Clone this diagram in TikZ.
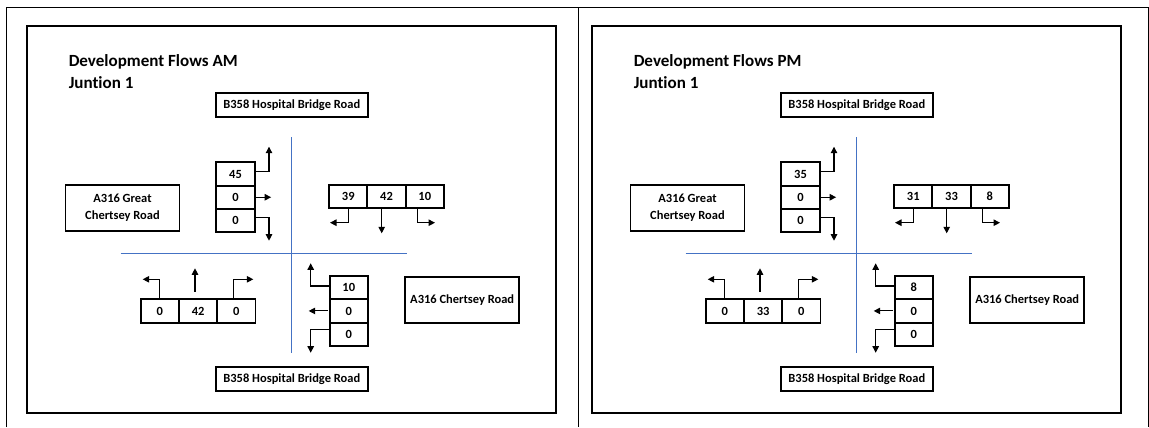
\documentclass[tikz,border=0pt]{standalone}
\usepackage{fontspec}
\setmainfont[Ligatures=NoCommon]{Carlito}
\usepackage{xcolor}
\usetikzlibrary{arrows.meta,positioning}
\definecolor{axisblue}{RGB}{68,114,196}

\begin{document}
\begin{tikzpicture}[
  x=0.02cm, y=-0.02cm,
  font=\bfseries\fontsize{7.1}{9.5}\selectfont,
  cell/.style={draw, line width=1.1pt, minimum width=0.765cm,
               minimum height=0.465cm, inner sep=0pt, outer sep=0pt},
  road/.style={draw, line width=1.1pt, align=center, inner sep=0pt,
               outer sep=0pt},
  heading/.style={anchor=base west, inner sep=0pt,
                  font=\bfseries\fontsize{9.7}{12}\selectfont},
  kerb/.style={draw=axisblue, line width=0.6pt},
  arr/.style={-{Triangle[length=1.3mm,width=1.3mm]}, line width=0.6pt}
]
\useasboundingbox (0,0) rectangle (1149,427);

% table frame
\draw[line width=0.6pt] (6.7,427) -- (6.7,7.7) -- (1148.3,7.7) -- (1148.3,427);
\draw[line width=0.6pt] (578.3,7.7) -- (578.3,427);

\foreach \p/\dx/\per/\wA/\wB/\wC/\nA/\nB/\nC/\sA/\sB/\sC/\eA/\eB/\eC in
  {am/0/AM/45/0/0/39/42/10/0/42/0/10/0/0,
   pm/565/PM/35/0/0/31/33/8/0/33/0/8/0/0}{
\begin{scope}[shift={(\dx,0)}]
\draw[line width=1.1pt] (27.3,26) rectangle (556,413.3);
\node[heading] (\p-title) at (68.4,66.7) {Development Flows \per};
\node[heading] (\p-junc) at (68.4,88.3) {Juntion 1};

% arms of the junction
\node[road, minimum width=3.03cm, minimum height=0.47cm] (\p-top)
    at (291.8,105) {B358 Hospital Bridge Road};
\node[road, minimum width=3.03cm, minimum height=0.47cm] (\p-bot)
    at (291.8,378.8) {B358 Hospital Bridge Road};
\node[road, minimum width=2.28cm, minimum height=0.92cm] (\p-west)
    at (122.5,208) {A316 Great\\Chertsey Road};
\node[road, minimum width=2.28cm, minimum height=0.92cm] (\p-east)
    at (462.2,299.7) {A316 Chertsey Road};

\draw[kerb] (291.7,137.3) -- (291.7,352.7);
\draw[kerb] (120.5,253.3) -- (406.8,253.3);

% west approach
\node[cell] (\p-w1) at (235.5,174) {\wA};
\node[cell, below=0pt of \p-w1] (\p-w2) {\wB};
\node[cell, below=0pt of \p-w2] (\p-w3) {\wC};
\coordinate (\p-wl) at (269,146.7);
\coordinate[right=0.33cm of \p-w2] (\p-ws);
\coordinate (\p-wr) at (269,240.7);
\draw[arr] ([yshift=0.045cm]\p-w1.east) -| (\p-wl);
\draw[arr, shorten <=1pt] (\p-w2.east) -- (\p-ws);
\draw[arr] ([yshift=0.065cm]\p-w3.east) -| (\p-wr);

% north approach
\node[cell] (\p-n1) at (348.3,196.3) {\nA};
\node[cell, right=0pt of \p-n1] (\p-n2) {\nB};
\node[cell, right=0pt of \p-n2] (\p-n3) {\nC};
\coordinate (\p-nr) at (330,222.7);
\coordinate (\p-ns) at (381.7,233.3);
\coordinate (\p-nl) at (435,222.7);
\draw[arr] (\p-n1.south) |- (\p-nr);
\draw[arr] (\p-n2.south -| \p-ns) -- (\p-ns);
\draw[arr] ([xshift=-0.15cm]\p-n3.south) |- (\p-nl);

% south approach
\node[cell] (\p-s1) at (159.9,311) {\sA};
\node[cell, right=0pt of \p-s1] (\p-s2) {\sB};
\node[cell, right=0pt of \p-s2] (\p-s3) {\sC};
\coordinate (\p-sl) at (142.7,279.3);
\coordinate (\p-su) at (195,268.3);
\coordinate (\p-sr) at (253.3,279.3);
\draw[arr] (\p-s1.north) |- (\p-sl);
\draw[arr, shorten <=0.15cm] (\p-s2.north -| \p-su) -- (\p-su);
\draw[arr] ([xshift=-0.06cm]\p-s3.north) |- (\p-sr);

% east approach
\node[cell] (\p-e1) at (348.8,287.7) {\eA};
\node[cell, below=0pt of \p-e1] (\p-e2) {\eB};
\node[cell, below=0pt of \p-e2] (\p-e3) {\eC};
\coordinate (\p-eu) at (310.7,263.3);
\coordinate[left=0.42cm of \p-e2] (\p-ew);
\coordinate (\p-ed) at (310.7,352.7);
\draw[arr] ([yshift=0.034cm]\p-e1.west) -| (\p-eu);
\draw[arr, shorten <=1pt] (\p-e2.west) -- (\p-ew);
\draw[arr] ([yshift=0.1cm]\p-e3.west) -| (\p-ed);
\end{scope}
}
\end{tikzpicture}
\end{document}
